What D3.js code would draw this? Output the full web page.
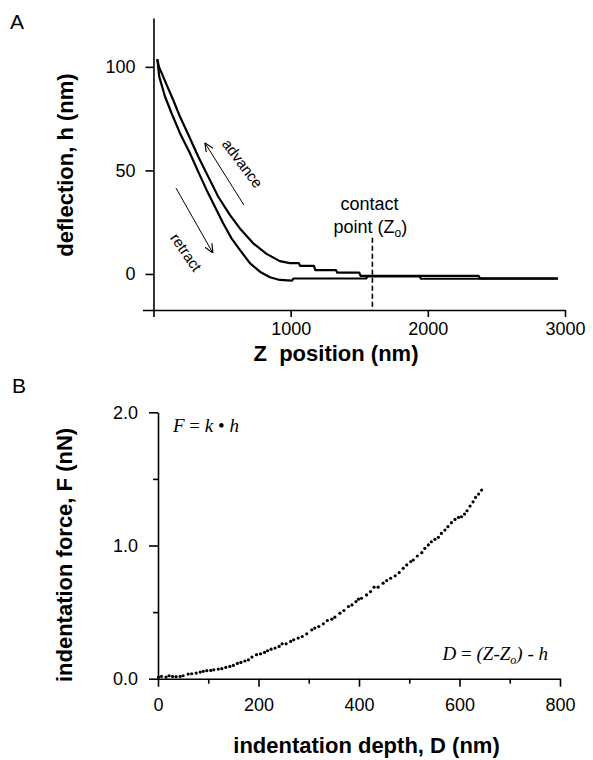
<!DOCTYPE html>
<html><head><meta charset="utf-8">
<script src="https://cdn.jsdelivr.net/npm/d3@7"></script>
<style>
body{margin:0;background:#fff;}
svg{display:block;font-family:"Liberation Sans",Arial,sans-serif;}
</style></head>
<body>
<svg id="chart" width="593" height="760"></svg>
<script>
// ---------- Panel A data ----------
const advanceZ = [28, 40, 60, 96, 144, 193, 266, 326, 399, 472, 557, 630, 727, 824, 921, 994, 1060, 1070, 1170, 1180, 1330, 1340, 1500, 1510, 2370, 2380, 2948];
const advanceH = [103.7, 100, 97, 91.3, 84, 76, 65.5, 56.7, 47, 37.3, 28.5, 22, 14.8, 9.7, 6.2, 5.2, 5.2, 3.9, 3.9, 1.9, 1.9, 0.6, 0.6, -0.9, -0.9, -2.1, -2.1];
const retractZ = [28, 42, 84, 132, 193, 266, 326, 387, 448, 508, 569, 630, 703, 776, 849, 921, 1010, 1020, 1550, 1560, 1940, 1950, 2948];
const retractH = [103.7, 95.3, 85.7, 77.6, 68, 58.3, 49.4, 40.6, 32.5, 24.5, 17.2, 11.6, 5.2, 1.1, -1.6, -2.9, -3.2, -2.2, -2.2, -1.2, -1.2, -2.3, -2.3];
const xTicksA = [0, 1000, 2000, 3000];
const yTicksA = [0, 50, 100];
const contactZ = 1596;

// ---------- Panel B data ----------
const depthD = [1,7,16,22,29,36,44,50,60,67,76,84,90,97,105,111,120,127,135,143,150,158,165,173,180,187,196,204,212,218,225,233,241,247,255,264,270,279,287,296,306,312,320,329,337,346,352,362,370,379,386,394,399,405,415,423,430,438,448,455,463,472,480,488,495,503,508,516,525,531,538,544,551,558,564,571,577,584,591,598,604,610,615,621,627,632,638,644];
const forceF = [0.012,0.017,0.012,0.022,0.017,0.015,0.017,0.022,0.035,0.037,0.042,0.05,0.055,0.06,0.062,0.067,0.072,0.075,0.085,0.092,0.1,0.115,0.122,0.133,0.142,0.162,0.18,0.187,0.197,0.21,0.222,0.23,0.242,0.262,0.262,0.28,0.292,0.305,0.317,0.337,0.367,0.38,0.392,0.412,0.437,0.447,0.462,0.492,0.512,0.542,0.554,0.579,0.597,0.604,0.629,0.654,0.687,0.687,0.717,0.737,0.754,0.772,0.797,0.829,0.854,0.879,0.891,0.921,0.946,0.979,1.004,1.028,1.046,1.061,1.091,1.116,1.141,1.171,1.196,1.211,1.216,1.236,1.261,1.296,1.328,1.361,1.386,1.416];
const xTicksB = [0, 200, 400, 600, 800];
const xMinorB = [100, 300, 500, 700];
const yTicksB = [0, 1, 2];
const yMinorB = [0.5, 1.5];

const svg = d3.select("#chart");
svg.append("rect").attr("width",593).attr("height",760).attr("fill","#fff");

// ================= Panel A =================
const xA = d3.scaleLinear().domain([-80, 3000]).range([142.5, 565]);
const yA = d3.scaleLinear().domain([-17.4, 123.6]).range([310, 18]);

const gA = svg.append("g");
const axA_x = gA.append("g").attr("transform", `translate(0,${yA(-17.4)})`)
  .call(d3.axisBottom(xA).tickValues(xTicksA).tickSize(7).tickSizeOuter(0).tickPadding(5)
    .tickFormat(d => d === 0 ? "" : d));
const axA_y = gA.append("g").attr("transform", `translate(${xA(0)},0)`)
  .call(d3.axisLeft(yA).tickValues(yTicksA).tickSize(8).tickSizeOuter(0).tickPadding(10));
[axA_x, axA_y].forEach(a => {
  a.selectAll("path,line").attr("stroke","#000").attr("stroke-width",1.6);
  a.selectAll("text").attr("font-size",18).attr("fill","#000").attr("font-family","'Liberation Sans',Arial,sans-serif");
});

const lineA = d3.line().x(d => xA(d[0])).y(d => yA(d[1]));
gA.append("path").datum(advanceZ.map((z,i)=>[z, advanceH[i]]))
  .attr("d", lineA).attr("fill","none").attr("stroke","#000").attr("stroke-width",2.2).attr("stroke-linejoin","round");
gA.append("path").datum(retractZ.map((z,i)=>[z, retractH[i]]))
  .attr("d", lineA).attr("fill","none").attr("stroke","#000").attr("stroke-width",2.2).attr("stroke-linejoin","round");

// contact point dashed line
gA.append("line").attr("x1", xA(contactZ)).attr("x2", xA(contactZ))
  .attr("y1", yA(17.5)).attr("y2", yA(-17.4))
  .attr("stroke","#000").attr("stroke-width",1.6).attr("stroke-dasharray","5,3");
const ct = gA.append("text").attr("text-anchor","middle").attr("font-size",18).attr("fill","#000");
ct.append("tspan").attr("x", xA(contactZ) - 3).attr("y", 210).text("contact");
const pt = gA.append("text").attr("text-anchor","middle").attr("font-size",18).attr("fill","#000")
  .attr("x", xA(contactZ) - 2).attr("y", 233);
pt.append("tspan").text("point (Z");
pt.append("tspan").attr("font-size",12).attr("dy",4).text("o");
pt.append("tspan").attr("dy",-4).text(")");

// arrows
const defs = svg.append("defs");
defs.append("marker").attr("id","ah").attr("viewBox","0 0 10 10").attr("refX",10).attr("refY",5)
  .attr("markerWidth",9).attr("markerHeight",9).attr("markerUnits","userSpaceOnUse").attr("orient","auto")
  .append("path").attr("d","M0,0.5 L10,5 L0,9.5").attr("fill","none").attr("stroke","#000").attr("stroke-width",1.3);
gA.append("line").attr("x1", xA(659)).attr("y1", yA(33.3)).attr("x2", xA(375)).attr("y2", yA(63.3))
  .attr("stroke","#000").attr("stroke-width",1).attr("marker-end","url(#ah)");
gA.append("line").attr("x1", xA(164)).attr("y1", yA(41.5)).attr("x2", xA(433)).attr("y2", yA(10.1))
  .attr("stroke","#000").attr("stroke-width",1).attr("marker-end","url(#ah)");
gA.append("text").attr("font-size",15).attr("text-anchor","middle").attr("dominant-baseline","central")
  .attr("transform",`translate(242.7,163.3) rotate(53)`).text("advance");
gA.append("text").attr("font-size",15).attr("text-anchor","middle").attr("dominant-baseline","central")
  .attr("transform",`translate(186.3,252.2) rotate(55)`).text("retract");

// titles A
gA.append("text").attr("x", 336).attr("y", 361).attr("text-anchor","middle").attr("font-size",22).attr("font-weight","bold")
  .attr("xml:space","preserve").text("Z  position (nm)");
gA.append("text").attr("transform","translate(73,165) rotate(-90)").attr("text-anchor","middle")
  .attr("font-size",22).attr("font-weight","bold").text("deflection, h (nm)");
svg.append("text").attr("x",10).attr("y",29).attr("font-size",21).text("A");

// ================= Panel B =================
const xB = d3.scaleLinear().domain([0, 800]).range([158, 560]);
const yB = d3.scaleLinear().domain([0, 2]).range([678.7, 412.3]);
const gB = svg.append("g");
const axB_x = gB.append("g").attr("transform",`translate(0,${yB(0)})`)
  .call(d3.axisBottom(xB).tickValues(xTicksB).tickSize(8).tickSizeOuter(0).tickPadding(12));
const axB_xm = gB.append("g").attr("transform",`translate(0,${yB(0)})`)
  .call(d3.axisBottom(xB).tickValues(xMinorB).tickSize(5).tickFormat(""));
axB_xm.select(".domain").remove();
const axB_y = gB.append("g").attr("transform",`translate(${xB(0)},0)`)
  .call(d3.axisLeft(yB).tickValues(yTicksB).tickSize(9).tickSizeOuter(0).tickPadding(11).tickFormat(d3.format(".1f")));
const axB_ym = gB.append("g").attr("transform",`translate(${xB(0)},0)`)
  .call(d3.axisLeft(yB).tickValues(yMinorB).tickSize(5).tickFormat(""));
axB_ym.select(".domain").remove();
[axB_x, axB_xm, axB_y, axB_ym].forEach(a => {
  a.selectAll("path,line").attr("stroke","#000").attr("stroke-width",1.6);
  a.selectAll("text").attr("font-size",18).attr("fill","#000").attr("font-family","'Liberation Sans',Arial,sans-serif");
});

gB.append("g").selectAll("circle").data(depthD.map((d,i)=>[d, forceF[i]])).join("circle")
  .attr("cx", d => xB(d[0])).attr("cy", d => yB(d[1])).attr("r", 1.6).attr("fill","#000");

// formulas
const f1 = gB.append("text").attr("x",173).attr("y",432).attr("font-size",19)
  .attr("font-family","'Liberation Serif','Times New Roman',serif").attr("xml:space","preserve");
f1.append("tspan").attr("font-style","italic").text("F");
f1.append("tspan").text(" = ");
f1.append("tspan").attr("font-style","italic").text("k");
f1.append("tspan").text(" • ");
f1.append("tspan").attr("font-style","italic").text("h");
const f2 = gB.append("text").attr("x",548).attr("y",660).attr("font-size",19).attr("text-anchor","end")
  .attr("font-family","'Liberation Serif','Times New Roman',serif").attr("font-style","italic").attr("xml:space","preserve");
f2.append("tspan").text("D");
f2.append("tspan").attr("font-style","normal").text(" = ");
f2.append("tspan").text("(Z-Z");
f2.append("tspan").attr("font-size",12).attr("dy",4).text("o");
f2.append("tspan").attr("dy",-4).text(")");
f2.append("tspan").attr("font-style","normal").text(" - ");
f2.append("tspan").text("h");

gB.append("text").attr("x", 366.5).attr("y", 753).attr("text-anchor","middle").attr("font-size",22).attr("font-weight","bold")
  .text("indentation depth, D (nm)");
gB.append("text").attr("transform","translate(72,555) rotate(-90)").attr("text-anchor","middle")
  .attr("font-size",22).attr("font-weight","bold").text("indentation force, F (nN)");
svg.append("text").attr("x",12).attr("y",393).attr("font-size",21).text("B");
</script>
</body></html>
